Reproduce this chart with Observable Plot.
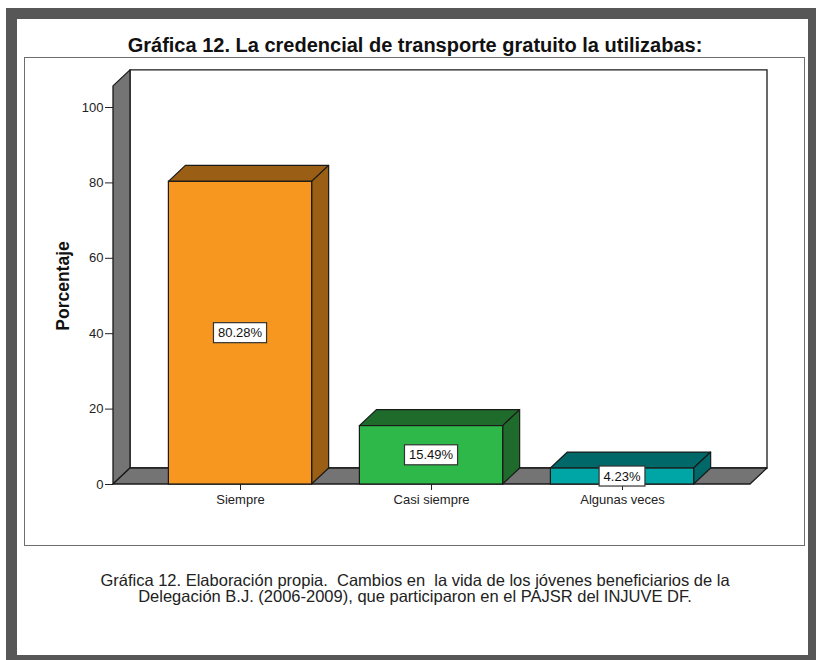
<!DOCTYPE html>
<html>
<head>
<meta charset="utf-8">
<script src="https://cdn.jsdelivr.net/npm/d3@7"></script>
<script src="https://cdn.jsdelivr.net/npm/@observablehq/plot@0.6"></script>
<style>
  html, body { margin: 0; padding: 0; background: #fff; width: 816px; height: 660px; overflow: hidden; font-family: "Liberation Sans", Arial, sans-serif; }
  #frame { position: absolute; left: 6px; top: 8px; width: 813px; height: 658px; box-sizing: border-box; border: 11px solid #575757; }
  #box { position: absolute; left: 24px; top: 57px; width: 781px; height: 489px; box-sizing: border-box; border: 1px solid #6e6e6e; }
  #title { position: absolute; left: 0; width: 830px; top: 34px; text-align: center; font-weight: bold; font-size: 20px; color: #111; }
  #caption { position: absolute; left: 0; width: 830px; top: 572px; text-align: center; font-size: 16.5px; line-height: 16px; color: #222; white-space: pre; }
  #chart { position: absolute; left: 0; top: 0; }
</style>
</head>
<body>
<div id="frame"></div>
<div id="box"></div>
<div id="title">Gráfica 12. La credencial de transporte gratuito la utilizabas:</div>
<div id="chart"></div>
<div id="caption">Gráfica 12. Elaboración propia.  Cambios en  la vida de los jóvenes beneficiarios de la
Delegación B.J. (2006-2009), que participaron en el PAJSR del INJUVE DF.</div>
<script>
const categories = ["Siempre", "Casi siempre", "Algunas veces"];
const values = [80.28, 15.49, 4.23];
const valueLabels = ["80.28%", "15.49%", "4.23%"];
const yTicks = [0, 20, 40, 60, 80, 100];
const frontColors = ["#F7971F", "#2EB84A", "#00A6A6"];
const darkColors = ["#9A5E14", "#1F6B2C", "#006868"];
const yLabel = "Porcentaje";

const WALL_TOP = 105.6;   // extent of the side wall above 100
const DX = 17, DY = 16;   // 3D depth offset in px
const HALF = 0.375;       // half bar width in category units
const WALL = "#747474";
const EDGE = "#1a1a1a";

const bars = categories.map((c, i) => ({
  i, category: c, value: values[i], label: valueLabels[i],
  front: frontColors[i], dark: darkColors[i]
}));

function scene(index, scales, values, dims) {
  const x = scales.x, y = scales.y;
  const g = d3.create("svg:g");
  const L = dims.marginLeft, R = dims.width - dims.marginRight;
  const y0 = y(0), yt = y(WALL_TOP);
  g.append("path")
    .attr("d", `M${L + DX},${y0 - DY}V${yt - DY}H${R + DX}V${y0 - DY}Z`)
    .attr("fill", "#fff").attr("stroke", EDGE).attr("stroke-width", 1.3);
  g.append("path")
    .attr("d", `M${L},${y0}L${L},${yt}L${L + DX},${yt - DY}L${L + DX},${y0 - DY}Z`)
    .attr("fill", WALL).attr("stroke", EDGE).attr("stroke-width", 1.3).attr("stroke-linejoin", "round");
  g.append("path")
    .attr("d", `M${L},${y0}L${L + DX},${y0 - DY}L${R + DX},${y0 - DY}L${R},${y0}Z`)
    .attr("fill", WALL).attr("stroke", EDGE).attr("stroke-width", 1.3).attr("stroke-linejoin", "round");
  return g.node();
}

function barDepth(index, scales) {
  const x = scales.x, y = scales.y;
  const g = d3.create("svg:g");
  for (const d of bars) {
    const x1 = x(d.i - HALF), x2 = x(d.i + HALF), y0 = y(0), yv = y(d.value);
    g.append("path")
      .attr("d", `M${x1},${yv}L${x1 + DX},${yv - DY}L${x2 + DX},${yv - DY}L${x2},${yv}Z`)
      .attr("fill", d.dark).attr("stroke", EDGE).attr("stroke-width", 1.2).attr("stroke-linejoin", "round");
    g.append("path")
      .attr("d", `M${x2},${yv}L${x2 + DX},${yv - DY}L${x2 + DX},${y0 - DY}L${x2},${y0}Z`)
      .attr("fill", d.dark).attr("stroke", EDGE).attr("stroke-width", 1.2).attr("stroke-linejoin", "round");
  }
  return g.node();
}

const ctx = document.createElement("canvas").getContext("2d");
ctx.font = "13px 'Liberation Sans'";
function valueBoxes(index, scales) {
  const x = scales.x, y = scales.y;
  const g = d3.create("svg:g");
  for (const d of bars) {
    const cx = x(d.i), cy = y(d.value / 2);
    const w = ctx.measureText(d.label).width + 9, h = 20;
    g.append("rect").attr("x", cx - w / 2).attr("y", cy - h / 2).attr("width", w).attr("height", h)
      .attr("fill", "#fff").attr("stroke", "#333").attr("stroke-width", 1.2);
    g.append("text").attr("x", cx).attr("y", cy).attr("dy", "0.36em")
      .attr("text-anchor", "middle").attr("font-size", 13).attr("fill", "#111")
      .attr("font-family", "'Liberation Sans', Arial, sans-serif").text(d.label);
  }
  return g.node();
}

const chart = Plot.plot({
  width: 816,
  height: 560,
  marginLeft: 113,
  marginRight: 66,
  marginTop: 107,
  marginBottom: 76,
  style: { fontFamily: "'Liberation Sans', Arial, sans-serif", fontSize: "13px", color: "#222", background: "transparent", overflow: "visible" },
  x: { type: "linear", domain: [-0.665, 2.670], ticks: [0, 1, 2], tickFormat: i => categories[i], tickSize: 6, tickPadding: 4, label: null },
  y: { domain: [0, 100], ticks: yTicks, tickSize: 8, tickPadding: 2, label: null },
  marks: [
    scene,
    barDepth,
    Plot.rect(bars, { x1: d => d.i - HALF, x2: d => d.i + HALF, y1: 0, y2: "value", fill: "front", stroke: EDGE, strokeWidth: 1.2 }),
    valueBoxes,
    Plot.text([yLabel], { frameAnchor: "left", textAnchor: "middle", rotate: -90, dx: -50, dy: -10, fontWeight: "bold", fontSize: 17.5, fill: "#111" })
  ]
});
document.getElementById("chart").appendChild(chart);
</script>
</body>
</html>
